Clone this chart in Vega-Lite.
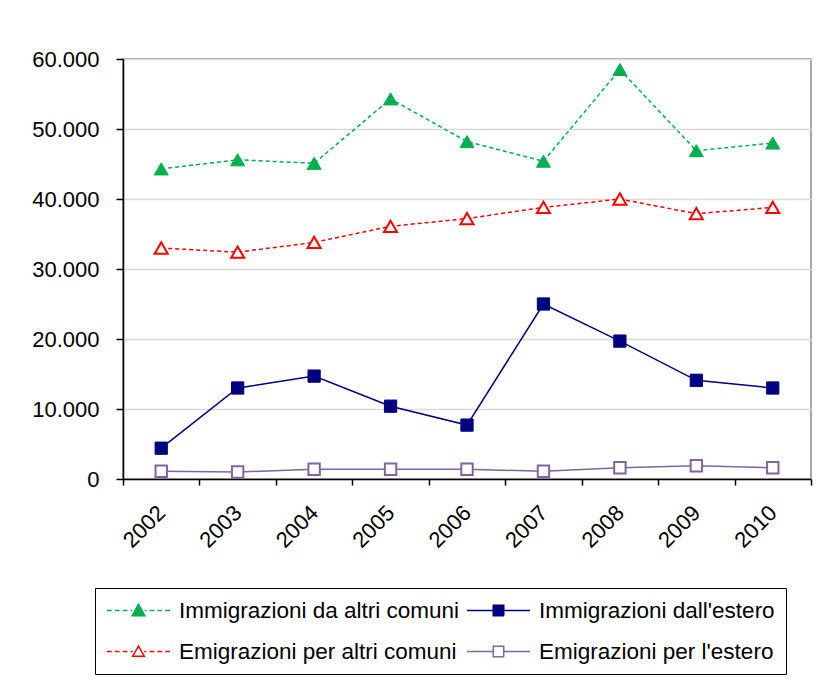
{
  "$schema": "https://vega.github.io/schema/vega-lite/v6.json",
  "width": 688,
  "height": 420,
  "autosize": {"type": "none"},
  "padding": {"left": 123, "top": 59, "right": 15, "bottom": 220},
  "background": "white",
  "config": {
    "locale": {"number": {"decimal": ",", "thousands": ".", "grouping": [3], "currency": ["€", ""]}},
    "view": {"stroke": "#8c8c8c", "strokeWidth": 1.5},
    "font": "Liberation Sans",
    "axis": {"labelFont": "Liberation Sans", "labelFontSize": 22, "labelColor": "black", "domainColor": "black", "tickColor": "black", "domainWidth": 1.5, "tickWidth": 1.5, "title": null}
  },
  "data": {"values": [
    {"year": "2002", "series": "Immigrazioni da altri comuni", "value": 44300},
    {"year": "2003", "series": "Immigrazioni da altri comuni", "value": 45600},
    {"year": "2004", "series": "Immigrazioni da altri comuni", "value": 45100},
    {"year": "2005", "series": "Immigrazioni da altri comuni", "value": 54300},
    {"year": "2006", "series": "Immigrazioni da altri comuni", "value": 48200},
    {"year": "2007", "series": "Immigrazioni da altri comuni", "value": 45400},
    {"year": "2008", "series": "Immigrazioni da altri comuni", "value": 58500},
    {"year": "2009", "series": "Immigrazioni da altri comuni", "value": 46900},
    {"year": "2010", "series": "Immigrazioni da altri comuni", "value": 48000},
    {"year": "2002", "series": "Immigrazioni dall'estero", "value": 4400},
    {"year": "2003", "series": "Immigrazioni dall'estero", "value": 13000},
    {"year": "2004", "series": "Immigrazioni dall'estero", "value": 14700},
    {"year": "2005", "series": "Immigrazioni dall'estero", "value": 10400},
    {"year": "2006", "series": "Immigrazioni dall'estero", "value": 7700},
    {"year": "2007", "series": "Immigrazioni dall'estero", "value": 25000},
    {"year": "2008", "series": "Immigrazioni dall'estero", "value": 19700},
    {"year": "2009", "series": "Immigrazioni dall'estero", "value": 14100},
    {"year": "2010", "series": "Immigrazioni dall'estero", "value": 13000},
    {"year": "2002", "series": "Emigrazioni per altri comuni", "value": 33000},
    {"year": "2003", "series": "Emigrazioni per altri comuni", "value": 32400},
    {"year": "2004", "series": "Emigrazioni per altri comuni", "value": 33800},
    {"year": "2005", "series": "Emigrazioni per altri comuni", "value": 36100},
    {"year": "2006", "series": "Emigrazioni per altri comuni", "value": 37200},
    {"year": "2007", "series": "Emigrazioni per altri comuni", "value": 38800},
    {"year": "2008", "series": "Emigrazioni per altri comuni", "value": 40000},
    {"year": "2009", "series": "Emigrazioni per altri comuni", "value": 37900},
    {"year": "2010", "series": "Emigrazioni per altri comuni", "value": 38800},
    {"year": "2002", "series": "Emigrazioni per l'estero", "value": 1100},
    {"year": "2003", "series": "Emigrazioni per l'estero", "value": 1000},
    {"year": "2004", "series": "Emigrazioni per l'estero", "value": 1400},
    {"year": "2005", "series": "Emigrazioni per l'estero", "value": 1400},
    {"year": "2006", "series": "Emigrazioni per l'estero", "value": 1400},
    {"year": "2007", "series": "Emigrazioni per l'estero", "value": 1100},
    {"year": "2008", "series": "Emigrazioni per l'estero", "value": 1600},
    {"year": "2009", "series": "Emigrazioni per l'estero", "value": 1900},
    {"year": "2010", "series": "Emigrazioni per l'estero", "value": 1600}
  ]},
  "encoding": {
    "x": {"field": "year", "type": "nominal", "sort": null,
      "scale": {"type": "band", "paddingInner": 0, "paddingOuter": 0},
      "axis": {"tickBand": "extent", "labelAngle": -45, "labelAlign": "right", "labelBaseline": "middle", "labelPadding": 24, "tickSize": 6, "grid": false}},
    "y": {"field": "value", "type": "quantitative",
      "scale": {"domain": [0, 60000], "nice": false},
      "axis": {"values": [0, 10000, 20000, 30000, 40000, 50000, 60000], "format": ",d", "tickSize": 7, "labelPadding": 17, "grid": true, "gridColor": "#d9d9d9", "gridWidth": 1.5}}
  },
  "layer": [
    {
      "transform": [{"filter": {"field": "series", "oneOf": ["Immigrazioni da altri comuni", "Emigrazioni per altri comuni"]}}],
      "mark": {"type": "line", "strokeWidth": 1.5, "strokeDash": [4, 3]},
      "encoding": {
        "color": {"field": "series", "type": "nominal",
          "scale": {"domain": ["Immigrazioni da altri comuni", "Immigrazioni dall'estero", "Emigrazioni per altri comuni", "Emigrazioni per l'estero"], "range": ["#00b050", "#000080", "#ff0000", "#8064a2"]},
          "legend": {
            "orient": "none", "direction": "horizontal", "legendX": -28, "legendY": 529, "columns": 2, "title": null,
            "strokeColor": "black", "padding": 11, "labelFontSize": 22.5, "labelFont": "Liberation Sans", "labelColor": "black", "labelLimit": 0,
            "labelExpr": "(datum.value=='Immigrazioni da altri comuni' || datum.value=='Emigrazioni per altri comuni') ? datum.label : datum.label + '\u2003\u2009'",
            "symbolSize": 441, "labelOffset": 50, "columnPadding": 4, "rowPadding": 18, "symbolStrokeWidth": 1.5,
            "encode": {"symbols": {"update": {
              "shape": {"signal": "datum.value=='Immigrazioni da altri comuni' ? 'M-1,0H-0.55M-0.25,0H0.2M0.5,0H0.95M1.25,0H1.4M2.6,0H2.75M3.05,0H3.5M3.8,0H4.25M4.55,0H5M1.4,0.5L2,-0.6L2.6,0.5Z' : (datum.value=='Emigrazioni per altri comuni' ? 'M-1,0H-0.55M-0.25,0H0.2M0.5,0H0.95M1.25,0H1.45M2.55,0H2.75M3.05,0H3.5M3.8,0H4.25M4.55,0H5M1.45,0.45L2,-0.52L2.55,0.45Z' : 'M-1,0H1.5M2.5,0H5M1.5,-0.5H2.5V0.5H1.5Z')"},
              "fill": {"signal": "datum.value=='Immigrazioni da altri comuni' ? '#00b050' : (datum.value==\"Immigrazioni dall'estero\" ? '#000080' : '#ffffff')"},
              "stroke": {"signal": "datum.value=='Immigrazioni da altri comuni' ? '#00b050' : (datum.value==\"Immigrazioni dall'estero\" ? '#000080' : (datum.value=='Emigrazioni per altri comuni' ? '#ff0000' : '#8064a2'))"},
              "strokeDash": {"value": [1, 0]},
              "strokeWidth": {"value": 1.5},
              "opacity": {"value": 1}
            }}}
          }}
      }
    },
    {
      "transform": [{"filter": {"field": "series", "oneOf": ["Immigrazioni dall'estero", "Emigrazioni per l'estero"]}}],
      "mark": {"type": "line", "strokeWidth": 1.5},
      "encoding": {"color": {"field": "series", "type": "nominal"}}
    },
    {
      "transform": [{"filter": {"field": "series", "equal": "Immigrazioni da altri comuni"}}],
      "mark": {"type": "point", "shape": "triangle-up", "filled": true, "size": 195, "fill": "#00b050", "stroke": "#00b050", "strokeWidth": 1, "opacity": 1}
    },
    {
      "transform": [{"filter": {"field": "series", "equal": "Immigrazioni dall'estero"}}],
      "mark": {"type": "point", "shape": "square", "filled": true, "size": 150, "fill": "#000080", "stroke": "#000080", "strokeWidth": 1, "opacity": 1}
    },
    {
      "transform": [{"filter": {"field": "series", "equal": "Emigrazioni per altri comuni"}}],
      "mark": {"type": "point", "shape": "triangle-up", "filled": true, "size": 170, "fill": "#ffffff", "stroke": "#ff0000", "strokeWidth": 2, "opacity": 1}
    },
    {
      "transform": [{"filter": {"field": "series", "equal": "Emigrazioni per l'estero"}}],
      "mark": {"type": "point", "shape": "square", "filled": true, "size": 130, "fill": "#ffffff", "stroke": "#8064a2", "strokeWidth": 2, "opacity": 1}
    }
  ]
}
